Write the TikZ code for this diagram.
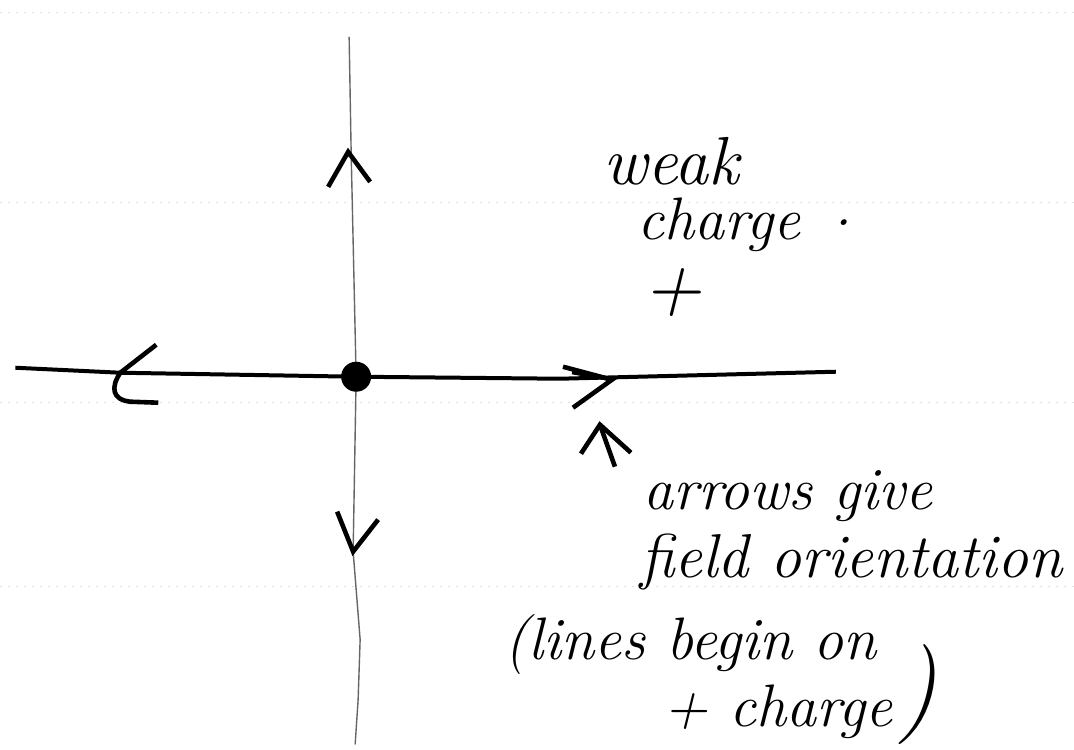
\documentclass[tikz,border=0pt]{standalone}
\usepackage{tikz}
\usetikzlibrary{calc,positioning}
\tikzset{
  line cap=round,
  line join=round,
  fieldline/.style={line width=2pt, black},
  faintline/.style={line width=0.7pt, black!60},
  chevron/.style={line width=2.3pt},
  ruling/.style={line width=0.4pt, black!12, dash pattern=on 1pt off 3pt},
  hand/.style={font=\fontsize{30}{36}\selectfont\itshape, inner sep=0pt},
  charge/.style={circle, fill, inner sep=0pt, minimum size=15pt}
}

\begin{document}
\begin{tikzpicture}[x=0.5pt,y=-0.5pt]
  \fill[white] (0,0) rectangle (1074,750);
  % faint paper rulings
  \foreach \y in {12,203,403,587}
    \draw[ruling] (0,\y) -- (1074,\y);

  \coordinate (o) at (356,377);
  \coordinate (west) at (15,368);
  \coordinate (east) at (836,372);
  \coordinate (north) at (349,37);
  \coordinate (south) at (355,745);

  % field lines through the charge
  \draw[faintline] (north) -- (351,152) -- (o) -- (353,552) -- (360,640) -- (358,700) -- (south);
  \draw[fieldline] (west) -- (120,373) -- (o) -- (560,379) -- (east);
  \node[charge] (q) at (o) {};

  % arrowheads
  \draw[chevron] (328,187) -- (348,152) -- (370,182);
  \draw[chevron] (337,512) -- (353,552) -- (378,520);
  \draw[chevron] (156,345) -- (120,373) .. controls (110,388) and (112,400) .. (130,402) -- (158,403);
  \draw[chevron] (563,367) -- (612,380) -- (573,408);
  \draw[chevron, line width=1.6pt] (572,373) -- (606,379);

  % pointer to the arrowhead
  \draw[chevron] (581,454) -- (600,425) -- (631,453);
  \draw[chevron] (600,425) -- (615,467);

  % notes
  \node[hand, font=\fontsize{34}{36}\selectfont\itshape, anchor=base west] (weak) at (603,185) {weak};
  \node[hand, anchor=base west] (chg) at (637,240) {charge};
  \node[hand, anchor=base west] (stop) at (834,226) {.};
  \node[hand, font=\fontsize{40}{40}\selectfont\itshape] (plus) at (673,293) {+};
  \node[hand, anchor=base west] (arrows) at (643,510) {arrows give};
  \node[hand, font=\fontsize{31}{36}\selectfont\itshape, anchor=base west] (field) at (640,578) {field orientation};
  \node[hand, anchor=base east] (lines) at (877,660) {(lines begin on};
  \node[hand, anchor=base east] (pos) at (893,727) {+ charge};
  \node[hand, font=\fontsize{50}{50}\selectfont\itshape] (paren) at (918,695) {)};
\end{tikzpicture}
\end{document}
